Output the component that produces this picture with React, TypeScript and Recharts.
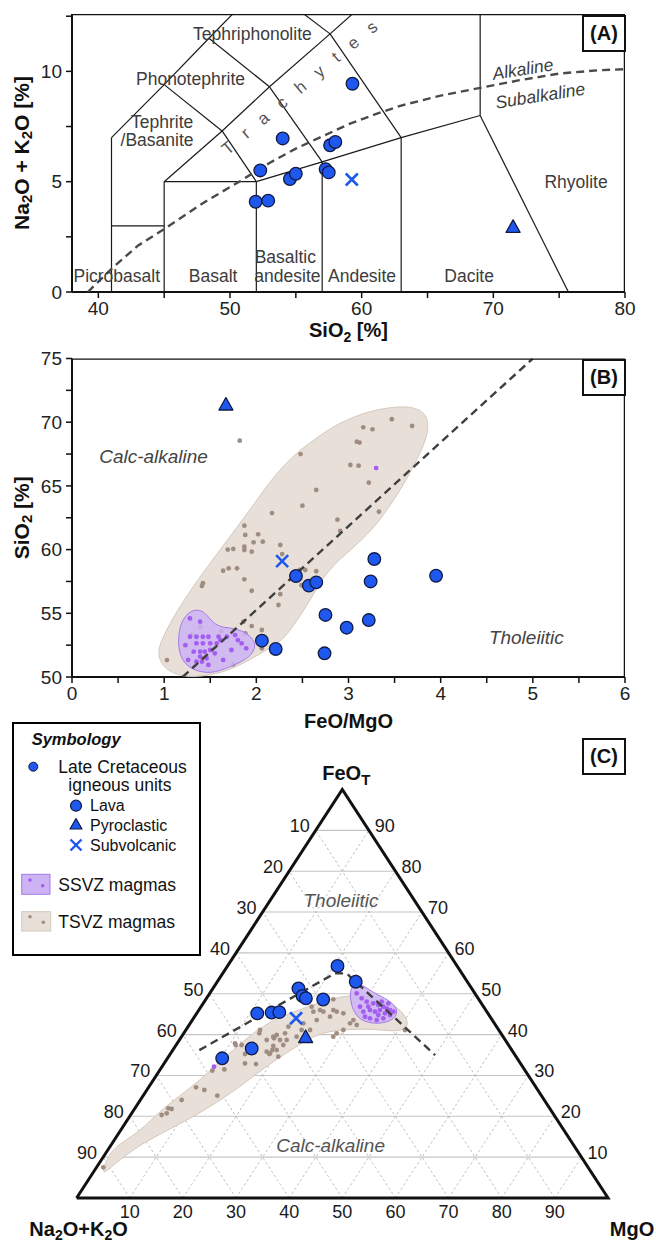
import React from 'react';
import { ScatterChart, Scatter, XAxis, YAxis } from 'recharts';

const FONT = '"Liberation Sans", Arial, Helvetica, sans-serif';
const BLUE = '#1f58ef';
const OUTLINE = '#111a44';
const INK = '#111111';
const LABEL = '#3c3c3c';
const TSVZ_FILL = '#e8e0d8';
const TSVZ_EDGE = '#d3c8bd';
const TSVZ_DOT = '#a08d81';
const SSVZ_FILL = '#cdb3f4';
const SSVZ_EDGE = '#a47ae8';
const SSVZ_DOT = '#a45df2';

type XY = { x: number; y: number; t?: string };
const xy = (pts: number[][]): XY[] => pts.map(([x, y]) => ({ x, y }));

// ---------- (A) TAS: Na2O+K2O vs SiO2 ----------
const tasLava = xy([[59.3, 9.44], [54.0, 6.96], [57.6, 6.65], [58.0, 6.8], [52.3, 5.51], [54.55, 5.12], [55.0, 5.36], [57.26, 5.57], [57.5, 5.42], [51.95, 4.09], [52.9, 4.14]]);
const tasPyroclastic = xy([[71.5, 2.93]]);
const tasSubvolcanic = xy([[59.25, 5.1]]);

// field boundaries (Le Bas et al. 1986)
const tasFieldLines = [
  [[41, 0], [41, 7]], [[41, 3], [45, 3]], [[45, 0], [45, 5]], [[45, 5], [52, 5]], [[52, 0], [52, 5]],
  [[52, 5], [57, 5.9]], [[57, 0], [57, 5.9]], [[57, 5.9], [63, 7]], [[63, 0], [63, 7]], [[63, 7], [69, 8]],
  [[69, 8], [69, 13]], [[69, 8], [75.7, 0]], [[45, 5], [49.4, 7.3]], [[49.4, 7.3], [52, 5]],
  [[49.4, 7.3], [53, 9.3]], [[53, 9.3], [57, 5.9]], [[53, 9.3], [57.6, 11.7]], [[57.6, 11.7], [63, 7]],
  [[57.6, 11.7], [61, 13.5]], [[41, 7], [45, 9.4]], [[45, 9.4], [49.4, 7.3]], [[45, 9.4], [48.4, 11.5]],
  [[48.4, 11.5], [53, 9.3]], [[48.4, 11.5], [52.5, 14]], [[52.5, 14], [57.6, 11.7]],
];

// Irvine & Baragar alkaline / subalkaline divide
const alkalineDivide = xy([[39.2, 0], [41, 1.05], [43, 2.1], [45, 2.85], [48, 4.05], [50.7, 5.0], [53, 5.85], [55, 6.5], [57, 7.05], [59, 7.6], [61, 8.05], [63, 8.45], [66, 8.9], [69, 9.25], [72, 9.6], [75, 9.9], [78, 10.05], [80, 10.1]]);

const tasFieldNames: XY[] = [
  { x: 51.7, y: 11.7, t: 'Tephriphonolite' },
  { x: 47.0, y: 9.64, t: 'Phonotephrite' },
  { x: 44.85, y: 7.71, t: 'Tephrite' },
  { x: 44.46, y: 6.88, t: '/Basanite' },
  { x: 41.4, y: 0.72, t: 'Picrobasalt' },
  { x: 48.72, y: 0.72, t: 'Basalt' },
  { x: 54.2, y: 1.6, t: 'Basaltic' },
  { x: 54.36, y: 0.72, t: 'andesite' },
  { x: 60.03, y: 0.72, t: 'Andesite' },
  { x: 68.16, y: 0.72, t: 'Dacite' },
  { x: 76.28, y: 4.98, t: 'Rhyolite' },
];
const tasTrachytes: XY[] = [{ x: 55.3, y: 9.25, t: 'Trachytes' }];
const tasSeriesNames: XY[] = [
  { x: 72.24, y: 10.1, t: 'Alkaline' },
  { x: 73.56, y: 8.9, t: 'Subalkaline' },
];

// ---------- (B) SiO2 vs FeO/MgO ----------
const feoLava = xy([[3.28, 59.26], [3.95, 57.95], [3.24, 57.5], [2.43, 57.93], [2.57, 57.17], [2.65, 57.43], [2.75, 54.87], [2.98, 53.87], [3.22, 54.47], [2.74, 51.86], [2.21, 52.2], [2.06, 52.85]]);
const feoPyroclastic = xy([[1.67, 71.35]]);
const feoSubvolcanic = xy([[2.28, 59.1]]);
const feoDivide = xy([[1.2, 50], [5.0, 75]]);

const tsvzEnvelopeB = xy([
  [1.22, 49.9], [1.0, 50.6], [0.92, 51.8], [0.98, 53.1], [1.14, 55.2], [1.36, 57.6], [1.64, 60.3],
  [1.92, 63.0], [2.16, 65.5], [2.4, 67.4], [2.62, 68.6], [2.88, 69.9], [3.22, 70.9], [3.6, 71.35],
  [3.85, 70.9], [3.88, 69.2], [3.74, 67.0], [3.6, 65.1], [3.42, 63.1], [3.25, 61.5], [3.06, 60.2],
  [2.88, 59.1], [2.72, 57.8], [2.6, 56.2], [2.44, 54.4], [2.28, 52.8], [2.1, 52.1], [1.9, 51.2],
  [1.6, 50.2],
]);
const ssvzEnvelopeB = xy([
  [1.15, 53.4], [1.2, 54.6], [1.31, 55.35], [1.43, 55.2], [1.51, 54.4], [1.6, 53.9], [1.76, 53.85],
  [1.92, 53.4], [2.01, 52.5], [1.93, 51.5], [1.72, 50.8], [1.5, 50.2], [1.28, 50.6], [1.16, 51.6],
]);
const tsvzB = xy([
  [1.82, 68.55], [2.48, 67.5], [3.16, 69.6], [3.26, 69.44], [3.47, 70.23], [3.69, 69.7], [3.09, 68.47],
  [3.12, 68.4], [3.02, 66.64], [3.11, 66.59], [3.22, 65.25], [2.65, 64.68], [2.5, 63.45], [2.17, 62.87],
  [2.88, 62.35], [2.91, 61.46], [3.33, 62.97], [1.87, 61.88], [1.88, 61.15], [2.02, 61.2], [1.97, 60.57],
  [2.07, 60.62], [1.87, 60.23], [1.87, 59.97], [1.95, 59.84], [1.75, 60.05], [1.69, 60.0], [2.26, 60.36],
  [2.28, 59.65], [1.64, 58.34], [1.7, 58.53], [1.79, 58.53], [1.87, 57.67], [1.41, 57.14], [1.42, 57.36],
  [1.95, 56.77], [2.26, 56.5], [2.24, 55.65], [1.86, 54.34], [1.95, 54.0], [2.06, 53.69], [1.88, 53.43],
  [2.06, 52.25], [1.03, 51.33], [2.47, 58.4], [2.53, 58.4], [2.49, 57.2], [2.65, 58.3], [1.39, 53.95],
  [1.3, 53.3], [1.62, 53.6], [1.75, 51.0],
]);
const ssvzB = xy([
  [1.28, 54.6], [1.39, 54.34], [1.35, 53.16], [1.42, 53.16], [1.48, 53.16], [1.35, 52.64], [1.42, 52.64],
  [1.5, 52.64], [1.57, 52.64], [1.61, 52.9], [1.39, 51.99], [1.44, 51.99], [1.5, 52.12], [1.55, 51.86],
  [1.32, 51.99], [1.23, 52.5], [1.26, 51.34], [1.35, 51.2], [1.41, 51.2], [1.48, 50.95], [1.64, 51.34],
  [1.73, 52.12], [1.77, 53.29], [1.8, 52.9], [1.84, 52.64], [1.89, 52.25], [1.59, 53.16], [1.68, 53.16],
  [1.28, 53.16], [1.46, 51.47], [1.39, 51.6], [3.3, 66.4],
]);
const feoSeriesNames: XY[] = [
  { x: 0.885, y: 67.3, t: 'Calc-alkaline' },
  { x: 4.93, y: 53.1, t: 'Tholeiitic' },
];

// ---------- (C) AFM ternary, each row = [Na2O+K2O, FeOt, MgO] ----------
const ternLava = [[22.5, 56.8, 20.7], [21.0, 52.95, 26.05], [32.6, 51.3, 16.1], [32.75, 49.45, 17.8], [32.4, 48.9, 18.7], [29.3, 48.6, 22.1], [43.4, 45.2, 11.4], [40.6, 45.4, 14.0], [39.1, 45.5, 15.4], [48.75, 36.6, 14.65], [55.5, 34.2, 10.3]];
const ternPyroclastic = [[37.25, 39.3, 23.45]];
const ternSubvolcanic = [[36.7, 44.0, 19.3]];
const ternDivide = [[58.8, 36.2, 5.0], [23.9, 55.0, 21.1], [21.7, 55.0, 23.3], [15.05, 35.0, 49.95]];
const ternTsvzEnvelope = [
  [90.3, 8.6, 1.1], [86.7, 12.6, 0.7], [80.2, 16.0, 3.8], [73.0, 21.9, 5.1], [64.0, 27.6, 8.4],
  [56.9, 33.0, 10.1], [50.3, 37.7, 12.0], [45.3, 41.3, 13.4], [39.5, 44.4, 16.1], [32.58, 47.0, 20.42],
  [27.95, 48.71, 23.34], [23.71, 49.69, 26.6], [19.68, 49.45, 30.87], [16.45, 47.25, 36.3], [15.73, 44.55, 39.72],
  [16.52, 41.86, 41.62], [19.2, 40.64, 40.16], [23.16, 41.37, 35.47], [27.86, 41.37, 30.77], [33.5, 40.64, 25.86],
  [38.6, 38.0, 23.4], [42.9, 35.4, 21.7], [47.3, 32.8, 19.9], [53.0, 29.0, 18.0], [59.5, 24.8, 15.7],
  [68.0, 19.9, 12.1], [76.8, 15.5, 7.7], [82.4, 12.5, 5.1], [88.8, 8.3, 2.9], [92.6, 5.4, 2.0],
];
const ternSsvzEnvelope = [
  [22.11, 52.14, 25.75], [20.11, 52.39, 27.5], [19.19, 50.43, 30.38], [17.49, 48.96, 33.55], [16.45, 47.25, 36.3],
  [16.87, 45.29, 37.84], [18.98, 43.33, 37.69], [21.98, 42.6, 35.42], [24.19, 43.08, 32.73], [25.14, 44.55, 30.31],
  [24.73, 47.25, 28.02], [23.46, 50.18, 26.36],
];
const ternTsvz = [
  [91.2, 7.51, 1.28], [73.83, 20.32, 5.85], [72.68, 20.73, 6.59], [71.76, 21.95, 6.29], [71.22, 21.79, 6.99],
  [68.23, 23.99, 7.78], [63.98, 27.09, 8.93], [62.74, 26.44, 10.82], [60.99, 25.05, 13.96], [58.87, 31.17, 9.96],
  [56.45, 31.49, 12.06], [51.34, 37.45, 11.21], [51.83, 32.96, 15.21], [50.68, 35.25, 14.07], [45.46, 40.31, 14.23],
  [46.32, 35.82, 17.86], [46.1, 35.25, 18.65], [45.05, 36.23, 18.72], [44.38, 37.21, 18.41], [43.31, 39.09, 17.6],
  [44.74, 34.6, 20.66], [49.84, 32.8, 17.36], [51.25, 37.87, 10.88], [50.21, 37.46, 12.33], [44.92, 41.13, 13.95],
  [44.89, 38.68, 16.43], [43.23, 39.5, 17.27], [42.39, 39.91, 17.7], [42.38, 38.68, 18.94], [40.62, 40.31, 19.07],
  [39.18, 41.94, 18.88], [42.37, 37.46, 20.17], [38.84, 39.5, 21.66], [41.13, 38.68, 20.19], [37.08, 41.13, 21.79],
  [35.5, 41.13, 23.37], [35.95, 42.76, 21.29], [33.03, 43.57, 23.4], [32.35, 46.83, 20.82], [32.64, 45.61, 21.75],
  [31.19, 46.02, 22.79], [28.5, 48.88, 22.62], [27.37, 48.64, 23.99], [30.76, 45.61, 23.63], [30.12, 44.39, 25.49],
  [28.25, 45.61, 26.14], [27.2, 45.21, 27.59], [28.68, 46.02, 25.3], [27.17, 42.76, 30.07], [26.13, 43.57, 30.3],
  [26.11, 42.35, 31.54], [29.24, 41.13, 29.63], [30.9, 40.31, 28.79], [31.94, 39.5, 28.56], [17.64, 41.13, 41.23],
  [45.89, 35.42, 18.69], [44.24, 36.23, 19.53],
];
const ternSsvz = [
  [22.24, 50.1, 27.66], [21.91, 48.88, 29.21], [21.38, 48.06, 30.56], [20.35, 47.65, 32.0], [19.6, 47.25, 33.15],
  [18.87, 46.83, 34.3], [18.44, 46.43, 35.13], [18.01, 46.02, 35.97], [21.78, 46.02, 32.2], [21.04, 45.61, 33.35],
  [19.9, 46.02, 34.08], [19.36, 45.21, 35.43], [18.62, 44.8, 36.58], [23.53, 44.39, 32.08], [22.8, 43.98, 33.22],
  [21.74, 43.57, 34.69], [23.25, 46.83, 29.92], [21.69, 46.83, 31.48], [18.56, 48.06, 33.38], [17.51, 47.65, 34.84],
  [23.24, 45.61, 31.15], [20.82, 44.8, 34.38], [20.29, 43.98, 35.73], [17.59, 45.61, 36.8], [58.07, 32.14, 9.79],
];
const ternTicks = [10, 20, 30, 40, 50, 60, 70, 80, 90];

// ternary -> plane: x along the MgO base, y = FeOt height
const tern = ([, f, m]: number[]): XY => ({ x: m + f / 2, y: f });

// ---------- marks ----------
const noMark = () => <g />;
const LavaDot = (p: any) => <circle cx={p.cx} cy={p.cy} r={6.3} fill={BLUE} stroke={OUTLINE} strokeWidth={1.3} />;
const PyroTriangle = (p: any) => (
  <polygon points={`${p.cx},${p.cy - 7.5} ${p.cx - 7},${p.cy + 5} ${p.cx + 7},${p.cy + 5}`} fill={BLUE} stroke={OUTLINE} strokeWidth={1.3} strokeLinejoin="round" />
);
const SubvolcanicX = (p: any) => (
  <g stroke={BLUE} strokeWidth={2.6}>
    <line x1={p.cx - 6} y1={p.cy - 6} x2={p.cx + 6} y2={p.cy + 6} />
    <line x1={p.cx - 6} y1={p.cy + 6} x2={p.cx + 6} y2={p.cy - 6} />
  </g>
);
const smallDot = (fill: string) => (p: any) => <circle cx={p.cx} cy={p.cy} r={2.4} fill={fill} />;
const textMark = (opts: any) => (p: any) => (
  <text x={p.cx + (opts.dx || 0)} y={p.cy + (opts.dy || 0)} textAnchor={opts.anchor || 'middle'} dominantBaseline="central"
    fontFamily={FONT} fontSize={opts.size || 18} fontStyle={opts.italic ? 'italic' : 'normal'} fill={opts.fill || LABEL}
    letterSpacing={opts.spacing} transform={opts.rotate ? `rotate(${opts.rotate}, ${p.cx}, ${p.cy})` : undefined}>
    {p.payload.t}
  </text>
);

const lineStyle = (stroke: string, width: number, dash?: string) => ({ stroke, strokeWidth: width, strokeDasharray: dash, fill: 'none' });

const axisCommon = {
  type: 'number' as const,
  allowDataOverflow: true,
  interval: 0 as const,
  tickSize: 6,
  tickMargin: 4,
  axisLine: { stroke: INK, strokeWidth: 2 },
  tickLine: { stroke: INK, strokeWidth: 1.5 },
  tick: { fontSize: 19, fill: '#222', fontFamily: FONT },
};

const tasXTitle = (props: any) => {
  const { x, y, width } = props.viewBox;
  return (
    <text x={x + width / 2} y={y + 45} textAnchor="middle" fontFamily={FONT} fontWeight="bold" fontSize={20} fill={INK}>
      SiO<tspan dy={5} fontSize={14}>2</tspan><tspan dy={-5}> [%]</tspan>
    </text>
  );
};
const tasYTitle = (props: any) => {
  const { x, y, height } = props.viewBox;
  const cx = x + 21;
  const cy = y + height / 2;
  return (
    <text x={cx} y={cy} transform={`rotate(-90, ${cx}, ${cy})`} textAnchor="middle" dominantBaseline="central" fontFamily={FONT} fontWeight="bold" fontSize={21} fill={INK}>
      Na<tspan dy={5} fontSize={15}>2</tspan><tspan dy={-5}>O + K</tspan><tspan dy={5} fontSize={15}>2</tspan><tspan dy={-5}>O [%]</tspan>
    </text>
  );
};
const feoXTitle = (props: any) => {
  const { x, y, width } = props.viewBox;
  return (
    <text x={x + width / 2} y={y + 51} textAnchor="middle" fontFamily={FONT} fontWeight="bold" fontSize={20} fill={INK}>FeO/MgO</text>
  );
};
const feoYTitle = (props: any) => {
  const { x, y, height } = props.viewBox;
  const cx = x + 21;
  const cy = y + height / 2;
  return (
    <text x={cx} y={cy} transform={`rotate(-90, ${cx}, ${cy})`} textAnchor="middle" dominantBaseline="central" fontFamily={FONT} fontWeight="bold" fontSize={21} fill={INK}>
      SiO<tspan dy={5} fontSize={15}>2</tspan><tspan dy={-5}> [%]</tspan>
    </text>
  );
};

const Tag = ({ left, top, text }: { left: number; top: number; text: string }) => (
  <div style={{ position: 'absolute', left, top, width: 44, height: 37, boxSizing: 'border-box', border: '2px solid #111', background: '#fff',
    display: 'flex', alignItems: 'center', justifyContent: 'center', fontFamily: FONT, fontWeight: 'bold', fontSize: 20, color: INK }}>
    {text}
  </div>
);

const TasChart = () => (
  <ScatterChart width={656} height={345} margin={{ top: 14, right: 31, bottom: 0, left: 0 }}>
    <XAxis {...axisCommon} dataKey="x" domain={[38, 80]} ticks={[40, 45, 50, 55, 60, 65, 70, 75, 80]} height={53}
      tickFormatter={(v: number) => (v % 10 === 0 ? String(v) : '')} label={tasXTitle} />
    <YAxis {...axisCommon} dataKey="y" domain={[0, 12.6]} ticks={[0, 2.5, 5, 7.5, 10, 12.5]} width={72}
      tickFormatter={(v: number) => (v % 5 === 0 ? String(v) : '')} label={tasYTitle} />
    {tasFieldLines.map((seg, i) => (
      <Scatter key={`f${i}`} data={xy(seg)} line={lineStyle('#1a1a1a', 1.2)} shape={noMark} isAnimationActive={false} />
    ))}
    <Scatter data={alkalineDivide} line={lineStyle('#4a4a4a', 2.4, '8 5')} shape={noMark} isAnimationActive={false} />
    <Scatter data={xy([[38, 12.6], [80, 12.6], [80, 0]])} line={lineStyle(INK, 2.5)} shape={noMark} isAnimationActive={false} />
    <Scatter data={tasFieldNames} shape={textMark({ size: 17.5 })} isAnimationActive={false} />
    <Scatter data={tasTrachytes} shape={textMark({ size: 17, rotate: -40, spacing: 15.4, dx: 7.7, fill: '#555' })} isAnimationActive={false} />
    <Scatter data={tasSeriesNames} shape={textMark({ size: 17.5, rotate: -9, italic: true })} isAnimationActive={false} />
    <Scatter data={tasLava} shape={LavaDot} isAnimationActive={false} />
    <Scatter data={tasPyroclastic} shape={PyroTriangle} isAnimationActive={false} />
    <Scatter data={tasSubvolcanic} shape={SubvolcanicX} isAnimationActive={false} />
  </ScatterChart>
);

const FeoChart = () => (
  <ScatterChart width={656} height={415} margin={{ top: 28.5, right: 31, bottom: 0, left: 0 }}>
    <XAxis {...axisCommon} dataKey="x" domain={[0, 6]} ticks={[0, 0.5, 1, 1.5, 2, 2.5, 3, 3.5, 4, 4.5, 5, 5.5, 6]} height={68}
      tickFormatter={(v: number) => (Number.isInteger(v) ? String(v) : '')} label={feoXTitle} />
    <YAxis {...axisCommon} dataKey="y" domain={[50, 75]} ticks={[50, 52.5, 55, 57.5, 60, 62.5, 65, 67.5, 70, 72.5, 75]} width={72}
      tickFormatter={(v: number) => (v % 5 === 0 ? String(v) : '')} label={feoYTitle} />
    <Scatter data={tsvzEnvelopeB} line={{ fill: TSVZ_FILL, stroke: TSVZ_EDGE, strokeWidth: 1 }} lineJointType="basisClosed" shape={noMark} isAnimationActive={false} />
    <Scatter data={tsvzB} shape={smallDot(TSVZ_DOT)} isAnimationActive={false} />
    <Scatter data={ssvzEnvelopeB} line={{ fill: SSVZ_FILL, fillOpacity: 0.85, stroke: SSVZ_EDGE, strokeWidth: 1 }} lineJointType="basisClosed" shape={noMark} isAnimationActive={false} />
    <Scatter data={ssvzB} shape={smallDot(SSVZ_DOT)} isAnimationActive={false} />
    <Scatter data={feoDivide} line={lineStyle('#3f3f3f', 2.4, '8 5')} shape={noMark} isAnimationActive={false} />
    <Scatter data={xy([[0, 75], [6, 75], [6, 50]])} line={lineStyle(INK, 2.5)} shape={noMark} isAnimationActive={false} />
    <Scatter data={feoSeriesNames} shape={textMark({ size: 19, italic: true, fill: '#444' })} isAnimationActive={false} />
    <Scatter data={feoLava} shape={LavaDot} isAnimationActive={false} />
    <Scatter data={feoPyroclastic} shape={PyroTriangle} isAnimationActive={false} />
    <Scatter data={feoSubvolcanic} shape={SubvolcanicX} isAnimationActive={false} />
  </ScatterChart>
);

const gridLines = ternTicks.flatMap((v) => [
  { key: `f${v}`, pts: [tern([100 - v, v, 0]), tern([0, v, 100 - v])], solid: true },
  { key: `m${v}`, pts: [tern([100 - v, 0, v]), tern([0, 100 - v, v])], solid: false },
  { key: `a${v}`, pts: [tern([v, 0, 100 - v]), tern([v, 100 - v, 0])], solid: false },
]);
const leftTickLabels = ternTicks.map((v) => ({ ...tern([v, 100 - v, 0]), t: String(v) }));
const rightTickLabels = ternTicks.map((v) => ({ ...tern([0, v, 100 - v]), t: String(v) }));
const bottomTickLabels = ternTicks.map((v) => ({ ...tern([100 - v, 0, v]), t: String(v) }));
const ternSeriesNames: XY[] = [
  { x: 49.75, y: 72.8, t: 'Tholeiitic' },
  { x: 47.8, y: 12.97, t: 'Calc-alkaline' },
];

const ApexLabels = (p: any) => {
  const t = p.payload.t;
  const common = { fontFamily: FONT, fontWeight: 'bold' as const, fontSize: 20, fill: INK, textAnchor: 'middle' as const };
  if (t === 'F') {
    return <text x={p.cx + 4} y={p.cy - 10} {...common}>FeO<tspan dy={5} fontSize={15}>T</tspan></text>;
  }
  if (t === 'A') {
    return <text x={p.cx + 2} y={p.cy + 38} {...common}>Na<tspan dy={4} fontSize={14}>2</tspan><tspan dy={-4}>O+K</tspan><tspan dy={4} fontSize={14}>2</tspan><tspan dy={-4}>O</tspan></text>;
  }
  return <text x={p.cx + 24} y={p.cy + 38} {...common}>MgO</text>;
};

const TernaryChart = () => (
  <ScatterChart width={656} height={515} margin={{ top: 0, right: 0, bottom: 0, left: 0 }}>
    <XAxis type="number" dataKey="x" domain={[-14.41, 109.03]} hide allowDataOverflow />
    <YAxis type="number" dataKey="y" domain={[-11.5, 114.57]} hide allowDataOverflow />
    {gridLines.map((g) => (
      <Scatter key={g.key} data={g.pts} line={g.solid ? lineStyle('#c4c4c4', 1.1) : lineStyle('#a3a3a3', 0.7, '2.5 2.5')} shape={noMark} isAnimationActive={false} />
    ))}
    <Scatter data={ternTsvzEnvelope.map(tern)} line={{ fill: TSVZ_FILL, stroke: TSVZ_EDGE, strokeWidth: 1 }} lineJointType="basisClosed" shape={noMark} isAnimationActive={false} />
    <Scatter data={ternTsvz.map(tern)} shape={smallDot(TSVZ_DOT)} isAnimationActive={false} />
    <Scatter data={ternSsvzEnvelope.map(tern)} line={{ fill: SSVZ_FILL, fillOpacity: 0.85, stroke: SSVZ_EDGE, strokeWidth: 1 }} lineJointType="basisClosed" shape={noMark} isAnimationActive={false} />
    <Scatter data={ternSsvz.map(tern)} shape={smallDot(SSVZ_DOT)} isAnimationActive={false} />
    <Scatter data={ternDivide.map(tern)} line={lineStyle('#3f3f3f', 2.4, '8 5')} shape={noMark} isAnimationActive={false} />
    <Scatter data={[tern([100, 0, 0]), tern([0, 100, 0]), tern([0, 0, 100]), tern([100, 0, 0])]} line={{ ...lineStyle(INK, 3), strokeLinejoin: 'miter' }} shape={noMark} isAnimationActive={false} />
    <Scatter data={leftTickLabels} shape={textMark({ size: 18, anchor: 'end', dx: -6, dy: -4, fill: '#1a1a1a' })} isAnimationActive={false} />
    <Scatter data={rightTickLabels} shape={textMark({ size: 18, anchor: 'start', dx: 6, dy: -4, fill: '#1a1a1a' })} isAnimationActive={false} />
    <Scatter data={bottomTickLabels} shape={textMark({ size: 18, dy: 14, fill: '#1a1a1a' })} isAnimationActive={false} />
    <Scatter data={[{ ...tern([0, 100, 0]), t: 'F' }, { ...tern([100, 0, 0]), t: 'A' }, { ...tern([0, 0, 100]), t: 'M' }]} shape={ApexLabels} isAnimationActive={false} />
    <Scatter data={ternSeriesNames} shape={textMark({ size: 19, italic: true, fill: '#555' })} isAnimationActive={false} />
    <Scatter data={ternLava.map(tern)} shape={LavaDot} isAnimationActive={false} />
    <Scatter data={ternPyroclastic.map(tern)} shape={PyroTriangle} isAnimationActive={false} />
    <Scatter data={ternSubvolcanic.map(tern)} shape={SubvolcanicX} isAnimationActive={false} />
  </ScatterChart>
);

const Symbology = () => (
  <svg width={189} height={234} style={{ position: 'absolute', left: 12, top: 722 }} fontFamily={FONT}>
    <rect x={1} y={1} width={187} height={232} fill="#fff" stroke="#000" strokeWidth={2} />
    <text x={19.7} y={17} dominantBaseline="central" fontWeight="bold" fontStyle="italic" fontSize={16.5} fill={INK}>Symbology</text>
    <circle cx={21.3} cy={44.7} r={4.5} fill={BLUE} stroke={OUTLINE} strokeWidth={1} />
    <text x={46.3} y={44.7} dominantBaseline="central" fontSize={17.5} fill={INK}>Late Cretaceous</text>
    <text x={56.3} y={63} dominantBaseline="central" fontSize={17.5} fill={INK}>igneous units</text>
    <circle cx={64} cy={83.7} r={5.5} fill={BLUE} stroke={OUTLINE} strokeWidth={1.2} />
    <text x={78} y={83.7} dominantBaseline="central" fontSize={16} fill={INK}>Lava</text>
    <polygon points="64,96.5 58,107 70,107" fill={BLUE} stroke={OUTLINE} strokeWidth={1.2} strokeLinejoin="round" />
    <text x={78} y={103} dominantBaseline="central" fontSize={16} fill={INK}>Pyroclastic</text>
    <g stroke={BLUE} strokeWidth={2.4}>
      <line x1={58.5} y1={117.5} x2={69.5} y2={128.5} />
      <line x1={58.5} y1={128.5} x2={69.5} y2={117.5} />
    </g>
    <text x={78} y={123} dominantBaseline="central" fontSize={16} fill={INK}>Subvolcanic</text>
    <rect x={9.7} y={152.3} width={28.3} height={20} fill={SSVZ_FILL} stroke={SSVZ_EDGE} strokeWidth={1} />
    <circle cx={18} cy={158} r={1.8} fill={SSVZ_DOT} />
    <circle cx={30.7} cy={163.7} r={1.8} fill={SSVZ_DOT} />
    <text x={46.3} y={162.7} dominantBaseline="central" fontSize={17.5} fill={INK}>SSVZ magmas</text>
    <rect x={9.7} y={189.7} width={29} height={19.3} fill={TSVZ_FILL} stroke={TSVZ_EDGE} strokeWidth={1} />
    <circle cx={18} cy={194.7} r={1.8} fill={TSVZ_DOT} />
    <circle cx={31.3} cy={200.3} r={1.8} fill={TSVZ_DOT} />
    <text x={46.3} y={199.7} dominantBaseline="central" fontSize={17.5} fill={INK}>TSVZ magmas</text>
  </svg>
);

export default function App() {
  return (
    <div style={{ position: 'absolute', left: 0, top: 0, width: 656, height: 1245, background: '#fff', overflow: 'hidden', fontFamily: FONT }}>
      <div style={{ position: 'absolute', left: 0, top: 0 }}><TasChart /></div>
      <div style={{ position: 'absolute', left: 0, top: 330 }}><FeoChart /></div>
      <div style={{ position: 'absolute', left: 0, top: 730 }}><TernaryChart /></div>
      <Symbology />
      <Tag left={582} top={15} text="(A)" />
      <Tag left={582} top={359} text="(B)" />
      <Tag left={582} top={738} text="(C)" />
    </div>
  );
}
